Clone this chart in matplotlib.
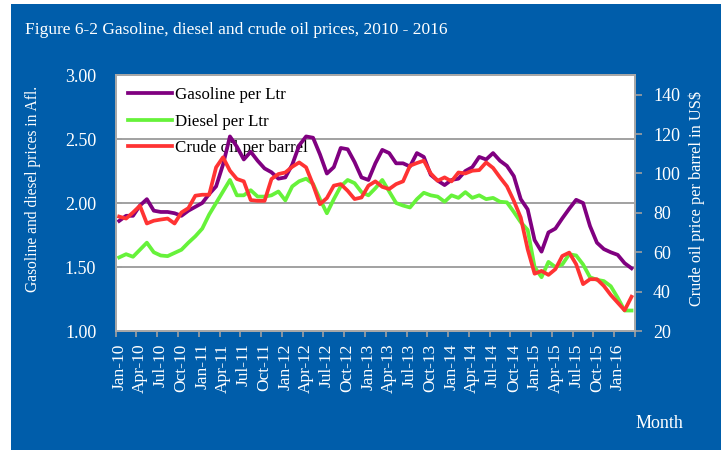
import matplotlib
matplotlib.use("Agg")
import matplotlib.pyplot as plt
from matplotlib.patches import Rectangle
from matplotlib.ticker import FixedLocator, NullFormatter

# ---------------- data ----------------
tick_labels = ["Jan-10", "Apr-10", "Jul-10", "Oct-10", "Jan-11", "Apr-11", "Jul-11", "Oct-11",
               "Jan-12", "Apr-12", "Jul-12", "Oct-12", "Jan-13", "Apr-13", "Jul-13", "Oct-13",
               "Jan-14", "Apr-14", "Jul-14", "Oct-14", "Jan-15", "Apr-15", "Jul-15", "Oct-15",
               "Jan-16"]

gasoline = [1.86, 1.90, 1.90, 1.98, 2.03, 1.94, 1.93, 1.93, 1.92, 1.90, 1.94, 1.97,
            2.00, 2.07, 2.13, 2.30, 2.52, 2.44, 2.34, 2.40, 2.33, 2.27, 2.24, 2.19,
            2.20, 2.30, 2.45, 2.52, 2.51, 2.38, 2.23, 2.28, 2.43, 2.42, 2.32, 2.20,
            2.18, 2.31, 2.415, 2.39, 2.31, 2.31, 2.285, 2.39, 2.36, 2.22, 2.175, 2.14,
            2.18, 2.19, 2.25, 2.28, 2.36, 2.34, 2.39, 2.33, 2.29, 2.21, 2.03, 1.95,
            1.71, 1.62, 1.77, 1.80, 1.88, 1.955, 2.025, 2.00, 1.82, 1.69, 1.64, 1.615,
            1.595, 1.53, 1.49]

diesel = [1.575, 1.60, 1.58, 1.635, 1.69, 1.615, 1.59, 1.585, 1.61, 1.635, 1.69, 1.74,
          1.80, 1.91, 2.00, 2.09, 2.18, 2.06, 2.06, 2.10, 2.05, 2.05, 2.06, 2.09,
          2.02, 2.13, 2.17, 2.19, 2.15, 2.03, 1.92, 2.03, 2.13, 2.18, 2.155, 2.085,
          2.06, 2.115, 2.18, 2.09, 2.00, 1.98, 1.965, 2.03, 2.08, 2.06, 2.05, 2.01,
          2.06, 2.04, 2.085, 2.04, 2.06, 2.03, 2.04, 2.01, 2.005, 1.93, 1.85, 1.79,
          1.50, 1.42, 1.54, 1.50, 1.52, 1.60, 1.59, 1.52, 1.42, 1.40, 1.39, 1.35,
          1.26, 1.16, 1.16]

crude = [78.1, 77.1, 80.2, 83.6, 74.6, 76.0, 76.6, 77.1, 74.6, 80.2, 82.4, 88.7,
         89.2, 89.2, 103.1, 108.2, 101.4, 97.2, 96.0, 86.5, 86.1, 86.1, 97.2, 99.7,
         100.5, 103.4, 105.6, 103.1, 94.3, 84.4, 87.5, 93.8, 94.6, 91.2, 87.0, 87.8,
         93.8, 96.0, 93.2, 92.1, 94.6, 96.0, 103.9, 105.3, 106.5, 100.0, 96.3, 98.0,
         96.0, 100.5, 100.0, 101.4, 101.7, 105.6, 102.8, 98.0, 93.5, 86.1, 77.6, 61.5,
         49.1, 50.5, 48.5, 51.4, 58.1, 59.8, 53.9, 43.8, 46.3, 46.3, 42.9, 38.3,
         34.4, 30.5, 37.4]

series_names = ["Gasoline per Ltr", "Diesel per Ltr", "Crude oil per barrel"]

# ---------------- style ----------------
BLUE = "#005DAA"
plt.rcParams["font.family"] = ["Liberation Serif", "DejaVu Serif"]

W, H = 721, 450
fig = plt.figure(figsize=(W / 100, H / 100), dpi=100, facecolor="white")
fig.patches.append(Rectangle((11 / W, 0), 1 - 11 / W, 1 - 4 / H, transform=fig.transFigure,
                             facecolor=BLUE, edgecolor="none", zorder=-10))

left, right, top, bottom = 115.7 / W, 635 / W, 1 - 75 / H, 1 - 331 / H
ax1 = fig.add_axes([left, bottom, right - left, top - bottom])
ax1.set_facecolor("white")
ax2 = ax1.twinx()

n = len(gasoline)
x = list(range(n))

l1, = ax1.plot(x, gasoline, color="#800080", lw=2.7, zorder=3, solid_joinstyle="round")
l2, = ax1.plot(x, diesel, color="#66F23A", lw=2.7, zorder=3, solid_joinstyle="round")
l3, = ax2.plot(x, crude, color="#FF3333", lw=2.7, zorder=3, solid_joinstyle="round")

ax1.set_xlim(-0.5, n - 0.5)
ax1.set_ylim(1.0, 3.0)
ax2.set_ylim(20, 150)

# gridlines
ax1.set_yticks([1.0, 1.5, 2.0, 2.5, 3.0])
ax1.set_yticklabels([f"{v:.2f}" for v in [1.0, 1.5, 2.0, 2.5, 3.0]])
ax1.yaxis.grid(True, color="#9A9A9A", lw=1.3)
ax1.set_axisbelow(True)

ax2.set_yticks([20, 40, 60, 80, 100, 120, 140])

# x ticks: labels at every third category, tick marks at category boundaries
major = list(range(0, n, 3))
ax1.set_xticks(major)
ax1.set_xticklabels(tick_labels, rotation=90)
ax1.xaxis.set_minor_locator(FixedLocator([k - 0.5 for k in range(0, n + 1, 3)]))
ax1.xaxis.set_minor_formatter(NullFormatter())
ax1.tick_params(axis="x", which="major", length=0, pad=9, labelsize=12.5, labelcolor="white")
ax1.tick_params(axis="x", which="minor", length=4, width=1.2, color="#A0A0A0", direction="out")
ax1.tick_params(axis="y", length=4, width=1.2, color="#A0A0A0", direction="in",
                pad=14, labelsize=13, labelcolor="white")
ax2.tick_params(axis="y", length=5, width=1.2, color="#A0A0A0", direction="out",
                pad=8, labelsize=13, labelcolor="white")

for ax in (ax1, ax2):
    for s in ax.spines.values():
        s.set_color("#A8A8A8")
        s.set_linewidth(1.3)

# legend (below the lines)
leg = ax1.legend([l1, l2, l3], series_names, loc="upper left",
                 bbox_to_anchor=(0.0237, 0.953), frameon=False, borderpad=0,
                 borderaxespad=0, fontsize=12.2, handlelength=2.6, handletextpad=0.2,
                 labelspacing=0.62)
leg.set_zorder(1)

# texts
fig.text(25 / W, 1 - 30 / H, "Figure 6-2 Gasoline, diesel and crude oil prices, 2010 - 2016",
         color="white", fontsize=12.5, ha="left", va="center")
fig.text(33 / W, 1 - 189 / H, "Gasoline and diesel prices in Afl.", color="white",
         fontsize=11.2, rotation=90, ha="center", va="center")
fig.text(697 / W, 1 - 198 / H, "Crude oil price per barrel in US$", color="white",
         fontsize=11.7, rotation=90, ha="center", va="center")
fig.text(636 / W, 1 - 423 / H, "Month", color="white", fontsize=13, ha="left", va="center")

fig.savefig("out.png", dpi=100, facecolor="white")
